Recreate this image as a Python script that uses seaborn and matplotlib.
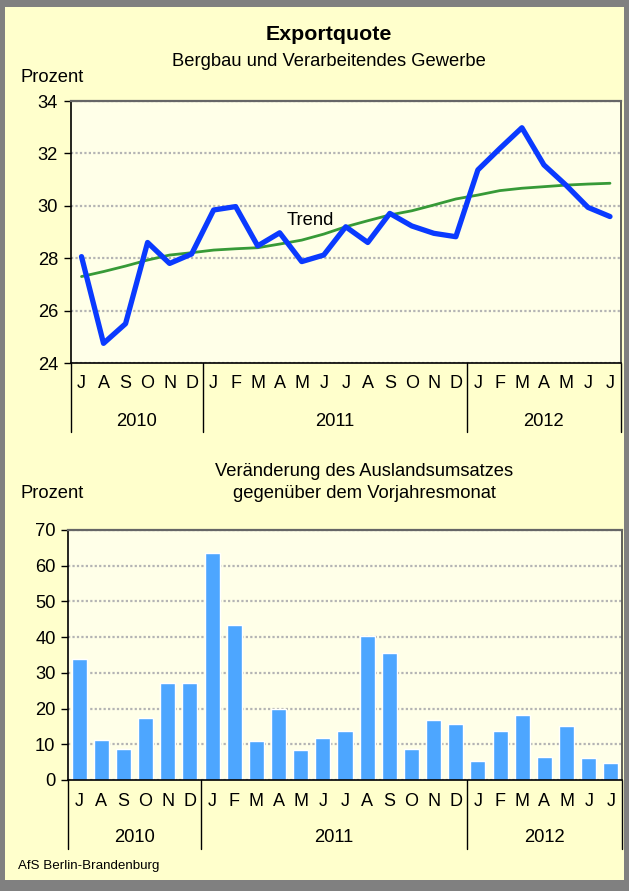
import numpy as np
import pandas as pd
import matplotlib.pyplot as plt
import matplotlib.transforms as mtransforms
import seaborn as sns

# Daten
months = ['J', 'A', 'S', 'O', 'N', 'D',
          'J', 'F', 'M', 'A', 'M', 'J', 'J', 'A', 'S', 'O', 'N', 'D',
          'J', 'F', 'M', 'A', 'M', 'J', 'J']
years = ['2010', '2011', '2012']
year_months = [6, 12, 7]

exportquote = [28.06, 24.75, 25.5, 28.6, 27.8, 28.16,
               29.84, 29.97, 28.47, 28.97, 27.87, 28.12, 29.2, 28.6, 29.71, 29.23, 28.95, 28.82,
               31.37, 32.19, 32.98, 31.56, 30.79, 29.94, 29.59]
trend = [27.3, 27.49, 27.7, 27.93, 28.12, 28.21,
         28.31, 28.36, 28.4, 28.54, 28.69, 28.92, 29.2, 29.43, 29.65, 29.81, 30.03, 30.26,
         30.41, 30.58, 30.67, 30.73, 30.79, 30.83, 30.86]
umsatz = [33.8, 11.3, 8.8, 17.5, 27.3, 27.3,
          63.5, 43.3, 11.0, 20.0, 8.5, 11.9, 13.6, 40.2, 35.5, 8.8, 16.7, 15.8,
          5.4, 13.8, 18.3, 6.5, 15.2, 6.3, 4.9]

df = pd.DataFrame({'pos': range(len(months)), 'quote': exportquote,
                   'trend': trend, 'umsatz': umsatz})

sns.set_theme(style='white')
plt.rcParams['font.family'] = ['Liberation Sans', 'DejaVu Sans']
FS = 13.2

W, H = 629, 891
fig = plt.figure(figsize=(W / 100, H / 100), dpi=100, facecolor='#808080')
fig.patches.append(plt.Rectangle((5 / W, 11 / H), 619 / W, 873 / H, transform=fig.transFigure,
                                 facecolor='#FFFFCC', edgecolor='none', zorder=-10))


def style_axis(ax, sep_bottom, year_y):
    ax.set_facecolor('#FFFFE8')
    ax.set_xlim(-0.5, 24.5)
    ax.set_xticks(range(len(months)))
    ax.set_xticklabels(months)
    ax.set_xlabel('')
    ax.set_ylabel('')
    ax.tick_params(axis='x', bottom=False, length=0, pad=9, labelsize=FS - 0.2, labelcolor='black')
    ax.tick_params(axis='y', left=True, length=5, width=1, color='black', pad=4,
                   labelsize=FS, labelcolor='black', direction='out')
    ax.yaxis.grid(True, color='#B4B4B4', linestyle=(0, (1, 1)), linewidth=1.6)
    ax.set_axisbelow(True)
    for s in ['left', 'bottom']:
        ax.spines[s].set_color('black')
        ax.spines[s].set_linewidth(1.2)
    ax.spines['top'].set_color('#666666')
    ax.spines['top'].set_linewidth(1.6)
    ax.spines['right'].set_color('#444444')
    ax.spines['right'].set_linewidth(1.2)
    # Jahres-Trennlinien und Jahreszahlen
    trans = mtransforms.blended_transform_factory(ax.transData, ax.transAxes)
    bounds = np.cumsum([0] + year_months) - 0.5
    for b in bounds:
        ax.plot([b, b], [0, sep_bottom], transform=trans, clip_on=False, color='black', lw=1)
    for i, y in enumerate(years):
        ax.text((bounds[i] + bounds[i + 1]) / 2, year_y, y, transform=trans,
                ha='center', va='center', fontsize=FS, color='black')


# ----------Exportquote---------------
ax1 = fig.add_axes([70.5 / W, 1 - 363 / H, 550.5 / W, 262 / H])
sns.lineplot(data=df, x='pos', y='trend', color='#379A37', lw=2, ax=ax1)
sns.lineplot(data=df, x='pos', y='quote', color='#0A3AFF', lw=3.8, ax=ax1)
ax1.set_ylim(24, 34)
ax1.set_yticks(range(24, 35, 2))
style_axis(ax1, -69 / 262, -58 / 262)
ax1.text(10.4, 29.42, 'Trend', ha='center', va='center', fontsize=FS, color='black')

fig.text(329 / W, 1 - 34 / H, 'Exportquote', ha='center', va='center', fontsize=15.4,
         fontweight='bold', color='black')
fig.text(329 / W, 1 - 61 / H, 'Bergbau und Verarbeitendes Gewerbe', ha='center', va='center',
         fontsize=FS, color='black')
fig.text(20 / W, 1 - 78 / H, 'Prozent', ha='left', va='center', fontsize=FS, color='black')

# ----------Auslandsumsatz---------------
ax2 = fig.add_axes([68 / W, 1 - 780 / H, 554 / W, 250 / H])
sns.barplot(data=df, x='pos', y='umsatz', color='#4DA6FF', saturation=1, width=0.68, ax=ax2)
ax2.set_ylim(0, 70)
ax2.set_yticks(range(0, 71, 10))
style_axis(ax2, -69 / 250, -58 / 250)

fig.text(364 / W, 1 - 471 / H, 'Veränderung des Auslandsumsatzes', ha='center', va='center',
         fontsize=FS, color='black')
fig.text(364 / W, 1 - 494 / H, 'gegenüber dem Vorjahresmonat', ha='center', va='center',
         fontsize=FS, color='black')
fig.text(20 / W, 1 - 493 / H, 'Prozent', ha='left', va='center', fontsize=FS, color='black')

fig.text(18 / W, 1 - 866 / H, 'AfS Berlin-Brandenburg', ha='left', va='center', fontsize=9.6,
         color='black')

fig.savefig('out.png', dpi=100, facecolor=fig.get_facecolor())
